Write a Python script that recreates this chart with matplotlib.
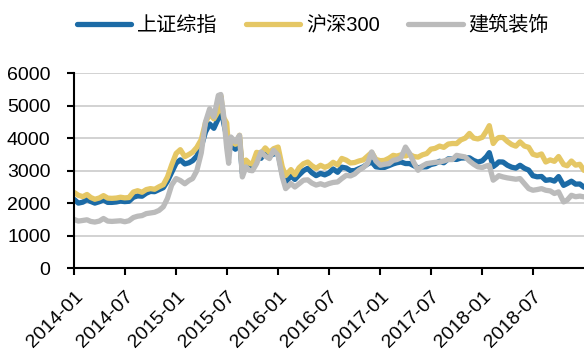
import matplotlib
matplotlib.use("Agg")
import matplotlib.pyplot as plt
import matplotlib.dates as mdates
import pandas as pd

plt.rcParams['font.family'] = ['Liberation Sans', 'Noto Sans CJK SC', 'DejaVu Sans']

# Half-monthly observation dates
dates = [
    "2014-01-01", "2014-01-16", "2014-02-01", "2014-02-16", "2014-03-01", "2014-03-16",
    "2014-04-01", "2014-04-16", "2014-05-01", "2014-05-16", "2014-06-01", "2014-06-16",
    "2014-07-01", "2014-07-16", "2014-08-01", "2014-08-16", "2014-09-01", "2014-09-16",
    "2014-10-01", "2014-10-16", "2014-11-01", "2014-11-16", "2014-12-01", "2014-12-16",
    "2015-01-01", "2015-01-16", "2015-02-01", "2015-02-16", "2015-03-01", "2015-03-16",
    "2015-04-01", "2015-04-16", "2015-05-01", "2015-05-16", "2015-06-01", "2015-06-10",
    "2015-06-20", "2015-07-01", "2015-07-08", "2015-07-16", "2015-08-01", "2015-08-16",
    "2015-08-26", "2015-09-08", "2015-09-20", "2015-10-01", "2015-10-16", "2015-11-01",
    "2015-11-16", "2015-12-01", "2015-12-16", "2016-01-01", "2016-01-16", "2016-01-28",
    "2016-02-16", "2016-03-01", "2016-03-16", "2016-04-01", "2016-04-16", "2016-05-01",
    "2016-05-16", "2016-06-01", "2016-06-16", "2016-07-01", "2016-07-16", "2016-08-01",
    "2016-08-16", "2016-09-01", "2016-09-16", "2016-10-01", "2016-10-16", "2016-11-01",
    "2016-11-16", "2016-12-01", "2016-12-16", "2017-01-01", "2017-01-16", "2017-02-01",
    "2017-02-16", "2017-03-01", "2017-03-16", "2017-04-01", "2017-04-16", "2017-05-01",
    "2017-05-16", "2017-06-01", "2017-06-16", "2017-07-01", "2017-07-16", "2017-08-01",
    "2017-08-16", "2017-09-01", "2017-09-16", "2017-10-01", "2017-10-16", "2017-11-01",
    "2017-11-16", "2017-12-01", "2017-12-16", "2018-01-01", "2018-01-16", "2018-01-26",
    "2018-02-09", "2018-02-20", "2018-03-01", "2018-03-16", "2018-04-01", "2018-04-16",
    "2018-05-01", "2018-05-16", "2018-06-01", "2018-06-16", "2018-07-01", "2018-07-16",
    "2018-08-01", "2018-08-16", "2018-09-01", "2018-09-16", "2018-10-01", "2018-10-19",
    "2018-11-01", "2018-11-16", "2018-12-01", "2018-12-16", "2018-12-31",
]

# 上证综指
sse = [
    2116, 2004, 2033, 2115, 2056, 2004, 2047, 2105, 2026, 2026, 2039, 2066,
    2050, 2060, 2185, 2226, 2217, 2308, 2364, 2356, 2420, 2478, 2680, 2950,
    3235, 3336, 3210, 3246, 3310, 3449, 3748, 4194, 4441, 4308, 4612, 5106,
    4478, 4053, 3507, 3823, 3664, 3965, 2927, 3170, 3100, 3053, 3391, 3383,
    3606, 3456, 3516, 3539, 2901, 2656, 2836, 2733, 2870, 3004, 3074, 2938,
    2850, 2917, 2873, 2932, 3054, 2953, 3110, 3085, 3002, 3005, 3063, 3122,
    3206, 3273, 3123, 3104, 3104, 3159, 3212, 3246, 3269, 3223, 3222, 3155,
    3090, 3117, 3123, 3192, 3222, 3292, 3246, 3366, 3358, 3349, 3391, 3396,
    3399, 3317, 3266, 3307, 3436, 3558, 3129, 3199, 3273, 3269, 3169, 3110,
    3082, 3169, 3075, 3021, 2847, 2814, 2824, 2705, 2725, 2681, 2821, 2550,
    2606, 2679, 2588, 2593, 2494,
]

# 沪深300
csi300 = [
    2331, 2245, 2203, 2270, 2178, 2122, 2161, 2235, 2158, 2150, 2160, 2185,
    2165, 2175, 2345, 2385, 2338, 2420, 2450, 2430, 2508, 2570, 2809, 3180,
    3534, 3650, 3434, 3503, 3572, 3720, 3962, 4480, 4749, 4600, 4841, 5310,
    4640, 4470, 3664, 3970, 3816, 4093, 3025, 3330, 3230, 3203, 3568, 3534,
    3705, 3566, 3680, 3731, 3118, 2853, 3037, 2878, 3093, 3218, 3270, 3156,
    3075, 3169, 3105, 3154, 3260, 3180, 3380, 3327, 3240, 3253, 3300, 3336,
    3450, 3565, 3350, 3310, 3320, 3387, 3475, 3452, 3490, 3456, 3500, 3439,
    3420, 3492, 3530, 3666, 3690, 3760, 3720, 3822, 3840, 3837, 3950, 4006,
    4150, 4006, 3980, 4031, 4230, 4389, 3840, 3967, 4023, 4027, 3899, 3808,
    3757, 3890, 3760, 3723, 3510, 3470, 3517, 3270, 3335, 3290, 3438, 3190,
    3154, 3300, 3173, 3200, 3011,
]

# 建筑装饰
construction = [
    1500, 1450, 1470, 1490, 1440, 1420, 1450, 1530, 1450, 1440, 1450, 1460,
    1430, 1460, 1560, 1600, 1620, 1680, 1700, 1720, 1780, 1890, 2150, 2560,
    2760, 2700, 2600, 2700, 2760, 3000, 3550, 4500, 4910, 4655, 5320, 5350,
    4700, 3700, 3230, 4040, 3890, 4090, 2810, 3120, 3015, 3000, 3220, 3580,
    3450, 3375, 3630, 3475, 2810, 2450, 2605, 2500, 2600, 2710, 2720, 2620,
    2560, 2600, 2555, 2605, 2640, 2655, 2760, 2860, 2840, 2900, 3015, 3100,
    3220, 3580, 3300, 3170, 3200, 3220, 3320, 3345, 3400, 3730, 3530, 3250,
    3015, 3150, 3220, 3240, 3260, 3270, 3300, 3345, 3345, 3475, 3450, 3425,
    3300, 3200, 3120, 3100, 3150, 3170, 2710, 2780, 2850, 2810, 2780, 2760,
    2740, 2760, 2600, 2450, 2400, 2420, 2450, 2400, 2380, 2300, 2350, 2040,
    2100, 2245, 2200, 2220, 2195,
]

series_names = ["上证综指", "沪深300", "建筑装饰"]
series_colors = ["#1C6BA6", "#E5C765", "#BBBBBB"]

x = pd.to_datetime(dates)

fig = plt.figure(figsize=(5.84, 3.51), dpi=100)
ax = fig.add_axes([0.127, 0.236, 0.873, 0.555])

for vals, name, col in zip([sse, csi300, construction], series_names, series_colors):
    ax.plot(x, vals, color=col, lw=3.8, label=name, solid_joinstyle='round',
            solid_capstyle='round')

ax.set_ylim(0, 6000)
ax.set_yticks(range(0, 6001, 1000))
ax.set_xlim(pd.Timestamp("2014-01-01"), pd.Timestamp("2018-12-31"))

tick_dates = pd.date_range("2014-01-01", "2018-07-01", freq="6MS")
ax.set_xticks(tick_dates)
ax.xaxis.set_major_formatter(mdates.DateFormatter("%Y-%m"))

ax.grid(axis='y', color='#CFCFCF', lw=1.3)
ax.set_axisbelow(True)
for s in ['top', 'right']:
    ax.spines[s].set_visible(False)
for s in ['left', 'bottom']:
    ax.spines[s].set_color('black')
    ax.spines[s].set_linewidth(1.5)

ax.tick_params(axis='both', direction='out', length=5, width=1.5, color='black',
               labelsize=14, colors='black')
ax.tick_params(axis='y', pad=12)
ax.tick_params(axis='x', pad=9)
for lbl in ax.get_xticklabels():
    lbl.set_rotation(45)
    lbl.set_ha('right')
    lbl.set_rotation_mode('anchor')

fig.legend(loc='center', bbox_to_anchor=(0.536, 0.928), ncol=3, frameon=False,
           fontsize=14.5, handlelength=2.7, handletextpad=0.3, columnspacing=1.4)

fig.savefig("out.png", dpi=100)
